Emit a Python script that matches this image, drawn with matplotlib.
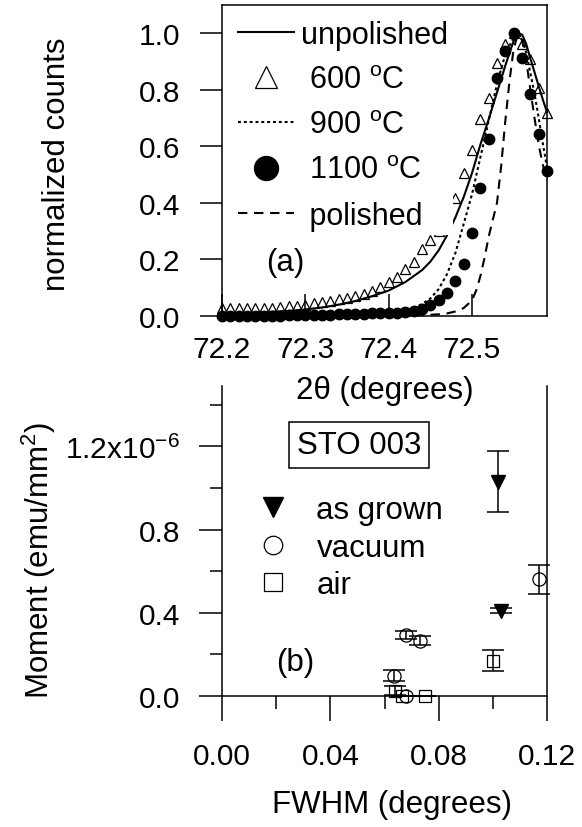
import matplotlib
matplotlib.use('Agg')
import matplotlib.pyplot as plt

plt.rcParams['font.family'] = ['Liberation Sans', 'DejaVu Sans']
plt.rcParams['mathtext.fontset'] = 'custom'
plt.rcParams['mathtext.rm'] = 'Liberation Sans'
plt.rcParams['mathtext.it'] = 'Liberation Sans:italic'
plt.rcParams['mathtext.default'] = 'regular'

# ---------------- panel (a) data ----------------
grid_x = [72.20, 72.21, 72.22, 72.23, 72.24, 72.25, 72.26, 72.27, 72.28, 72.29,
          72.30, 72.31, 72.32, 72.33, 72.34, 72.35, 72.36, 72.37, 72.38, 72.39,
          72.40, 72.41, 72.42, 72.43, 72.44, 72.45, 72.46, 72.47, 72.48, 72.49,
          72.50, 72.51, 72.52, 72.53, 72.54, 72.55, 72.56, 72.57, 72.58, 72.59]
ann600_y = [0.028, 0.028, 0.028, 0.028, 0.028, 0.029, 0.030, 0.031, 0.034, 0.036,
            0.039, 0.045, 0.048, 0.054, 0.060, 0.064, 0.071, 0.079, 0.090, 0.104,
            0.120, 0.138, 0.165, 0.192, 0.238, 0.270, 0.302, 0.355, 0.418, 0.507,
            0.587, 0.695, 0.772, 0.895, 0.962, 1.000, 0.962, 0.907, 0.807, 0.719]
ann1100_y = [0.000, 0.000, 0.000, 0.000, 0.000, 0.000, 0.000, 0.000, 0.002, 0.003,
             0.004, 0.004, 0.005, 0.005, 0.006, 0.006, 0.007, 0.008, 0.009, 0.010,
             0.011, 0.012, 0.014, 0.018, 0.026, 0.039, 0.057, 0.080, 0.124, 0.185,
             0.295, 0.451, 0.624, 0.840, 0.936, 1.000, 0.913, 0.783, 0.642, 0.512]

unpol_x = [72.20, 72.22, 72.24, 72.26, 72.28, 72.30, 72.32, 72.34, 72.36, 72.38,
           72.40, 72.42, 72.44, 72.45, 72.46, 72.47, 72.48, 72.49, 72.50, 72.51,
           72.52, 72.53, 72.54, 72.545, 72.55, 72.555, 72.56, 72.565, 72.57, 72.575,
           72.58, 72.585, 72.59]
unpol_y = [0.008, 0.010, 0.012, 0.015, 0.018, 0.023, 0.030, 0.040, 0.053, 0.070,
           0.090, 0.120, 0.162, 0.192, 0.232, 0.285, 0.348, 0.420, 0.505, 0.605,
           0.695, 0.790, 0.885, 0.930, 0.972, 0.997, 0.995, 0.962, 0.910, 0.862,
           0.812, 0.765, 0.720]

ann900_x = [72.20, 72.25, 72.30, 72.35, 72.40, 72.42, 72.43, 72.44, 72.45, 72.46,
            72.47, 72.48, 72.49, 72.50, 72.51, 72.52, 72.53, 72.54, 72.55, 72.555,
            72.56, 72.565, 72.57, 72.575, 72.58, 72.585, 72.59]
ann900_y = [0.000, 0.002, 0.004, 0.006, 0.010, 0.018, 0.028, 0.042, 0.062, 0.095,
            0.148, 0.222, 0.325, 0.430, 0.560, 0.690, 0.820, 0.925, 0.985, 1.000,
            0.980, 0.930, 0.860, 0.785, 0.700, 0.610, 0.525]

pol_x = [72.20, 72.30, 72.40, 72.44, 72.46, 72.47, 72.48, 72.49, 72.50, 72.505,
         72.51, 72.515, 72.52, 72.525, 72.53, 72.535, 72.54, 72.545, 72.55, 72.555,
         72.56, 72.565, 72.57, 72.575, 72.58, 72.585, 72.59]
pol_y = [0.000, 0.000, 0.001, 0.003, 0.006, 0.009, 0.016, 0.028, 0.055, 0.090,
         0.140, 0.205, 0.280, 0.340, 0.400, 0.530, 0.690, 0.830, 0.945, 0.995,
         0.975, 0.905, 0.800, 0.700, 0.605, 0.535, 0.480]

xticks_a = [72.2, 72.3, 72.4, 72.5]
yticks_a = [0.0, 0.2, 0.4, 0.6, 0.8, 1.0]
yticklabels_a = ['0.0', '0.2', '0.4', '0.6', '0.8', '1.0']

# ---------------- panel (b) data (moment in 1e-6 emu/mm^2) ----------------
grown_fwhm = [0.102, 0.103]
grown_moment = [1.03, 0.41]
grown_err = [0.147, 0.012]

vac_fwhm = [0.117, 0.068, 0.0731, 0.0635, 0.068]
vac_moment = [0.56, 0.293, 0.266, 0.098, 0.0]
vac_err = [0.072, 0.02, 0.02, 0.025, 0.0]

air_fwhm = [0.1002, 0.0639, 0.0664, 0.075]
air_moment = [0.17, 0.026, 0.0, 0.0]
air_err = [0.05, 0.02, 0.0, 0.0]

xticks_b = [0.00, 0.04, 0.08, 0.12]
xticklabels_b = ['0.00', '0.04', '0.08', '0.12']
xminor_b = [0.02, 0.06, 0.10]
yticks_b = [0.0, 0.4, 0.8, 1.2]
yticklabels_b = ['0.0', '0.4', '0.8', '1.2x10$^{-6}$']
yminor_b = [0.2, 0.6, 1.0, 1.4]

W, H = 582, 828
fig = plt.figure(figsize=(W / 100, H / 100), dpi=100)

def fx(px):
    return px / W

def fy(py):
    return 1 - py / H

TICKFS = 21.5
LABFS = 22.5
SPW = 1.1

# ---------------- panel (a) ----------------
ax1 = fig.add_axes([fx(222), fy(317), (547 - 222) / W, (317 - 6) / H])
ax1.set_zorder(2)
ax1.patch.set_visible(False)
lw = 1.5
ax1.plot(unpol_x, unpol_y, color='black', lw=lw, ls='-', label='unpolished', clip_on=False)
ax1.plot(grid_x, ann600_y, ls='none', marker='^', ms=7, mfc='none', mec='black', mew=0.9,
         label=' 600 $^{o}$C', clip_on=False)
ax1.plot(ann900_x, ann900_y, color='black', lw=lw, dashes=(1.4, 1.4), label=' 900 $^{o}$C',
         clip_on=False)
ax1.plot(grid_x, ann1100_y, ls='none', marker='o', ms=7.5, mfc='black', mec='black',
         label=' 1100 $^{o}$C', clip_on=False)
ax1.plot(pol_x, pol_y, color='black', lw=lw, dashes=(4.5, 3.2), label=' polished', clip_on=False)

ax1.set_xlim(72.2, 72.59)
ax1.set_ylim(0, 1.099)
ax1.set_xticks(xticks_a)
ax1.set_xticklabels([f'{t:.1f}' for t in xticks_a])
ax1.set_yticks(yticks_a)
ax1.set_yticklabels(yticklabels_a)
ax1.tick_params(axis='x', direction='in', length=16, width=SPW, pad=14, labelsize=TICKFS)
ax1.tick_params(axis='y', direction='out', length=16, width=SPW, pad=14, labelsize=TICKFS)
for s in ax1.spines.values():
    s.set_linewidth(SPW)
ax1.set_ylabel('normalized counts', fontsize=LABFS)
ax1.yaxis.set_label_coords(-0.462, 0.49)
ax1.set_xlabel('2\u03b8 (degrees)', fontsize=LABFS)
ax1.xaxis.set_label_coords(0.5, -0.19)

leg1 = ax1.legend(loc='upper left', bbox_to_anchor=(0.035, 0.968), fontsize=22, frameon=True,
                  facecolor='white', edgecolor='none', framealpha=1.0, fancybox=False,
                  handlelength=1.85, handletextpad=0.22, labelspacing=0.5, borderpad=0.15,
                  borderaxespad=0.0, markerscale=2.3)
leg1.get_frame().set_linewidth(0)
ax1.text(0.194, 0.174, '(a)', transform=ax1.transAxes, fontsize=LABFS, ha='center', va='center')

# ---------------- panel (b) ----------------
ax2 = fig.add_axes([fx(222), fy(697), (547 - 222) / W, (697 - 387) / H])
ax2.patch.set_visible(False)
ebkw = dict(fmt='none', ecolor='black', elinewidth=1.1, capsize=8, capthick=1.1, clip_on=False)
ax2.errorbar(grown_fwhm, grown_moment, yerr=grown_err, **ebkw)
ax2.errorbar(vac_fwhm, vac_moment, yerr=vac_err, **ebkw)
ax2.errorbar(air_fwhm, air_moment, yerr=air_err, **ebkw)
ax2.plot(grown_fwhm, grown_moment, ls='none', marker='v', ms=10, mfc='black', mec='black',
         label='as grown', clip_on=False)
ax2.plot(vac_fwhm, vac_moment, ls='none', marker='o', ms=9.5, mfc='none', mec='black', mew=0.9,
         label='vacuum', clip_on=False)
ax2.plot(air_fwhm, air_moment, ls='none', marker='s', ms=9, mfc='none', mec='black', mew=0.9,
         label='air', clip_on=False)

ax2.set_xlim(0, 0.12)
ax2.set_ylim(0, 1.49)
ax2.set_xticks(xticks_b)
ax2.set_xticklabels(xticklabels_b)
ax2.set_xticks(xminor_b, minor=True)
ax2.set_yticks(yticks_b)
ax2.set_yticklabels(yticklabels_b)
ax2.set_yticks(yminor_b, minor=True)
ax2.tick_params(axis='x', which='major', direction='out', length=18, width=SPW, pad=15,
                labelsize=TICKFS)
ax2.tick_params(axis='x', which='minor', direction='out', length=9, width=SPW)
ax2.tick_params(axis='y', which='major', direction='out', length=16.5, width=SPW, pad=13.5,
                labelsize=TICKFS)
ax2.tick_params(axis='y', which='minor', direction='out', length=8.6, width=SPW)
ax2.spines['top'].set_visible(False)
for k in ('left', 'right', 'bottom'):
    ax2.spines[k].set_linewidth(SPW)
ax2.set_ylabel('Moment (emu/mm$^{2}$)', fontsize=LABFS)
ax2.yaxis.set_label_coords(-0.505, 0.442)
ax2.set_xlabel('FWHM (degrees)', fontsize=LABFS)
ax2.xaxis.set_label_coords(0.522, -0.30)

leg2 = ax2.legend(loc='center left', bbox_to_anchor=(0.11, 0.478), fontsize=LABFS,
                  frameon=False, handlelength=1.0, handletextpad=0.88, labelspacing=0.24,
                  borderpad=0.0, borderaxespad=0.0, markerscale=1.4)
ax2.text(0.4215, 0.81, 'STO 003', transform=ax2.transAxes, fontsize=LABFS, ha='center',
         va='center', bbox=dict(boxstyle='square,pad=0.25', fc='white', ec='black', lw=SPW))
ax2.text(0.225, 0.11, '(b)', transform=ax2.transAxes, fontsize=LABFS, ha='center', va='center')

fig.savefig('out.png', dpi=100)
